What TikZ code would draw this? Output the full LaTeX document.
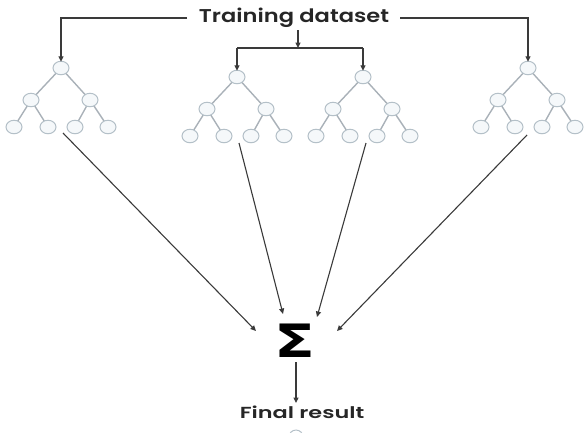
\documentclass[tikz,border=0pt]{standalone}
\usepackage{fontspec}
\setmainfont{Poppins}
\newfontfamily\semifont{Poppins SemiBold}
\newfontfamily\symfont{DejaVu Sans}
\usetikzlibrary{arrows.meta,calc,shapes.geometric}

\definecolor{linkgray}{HTML}{3A3A3A}
\definecolor{nodeedge}{HTML}{B4C0C8}
\definecolor{nodefill}{HTML}{F5F8FA}
\definecolor{branch}{HTML}{A9B1B8}

\tikzset{
  arr/.style={draw=linkgray, line width=1.1pt, -{Triangle[length=5.5pt,width=5pt]}},
  plain/.style={draw=linkgray, line width=1.1pt},
  tnode/.style={ellipse, draw=nodeedge, fill=nodefill, line width=1pt,
    minimum width=16pt, minimum height=13.5pt, inner sep=0pt},
  tedge/.style={draw=branch, line width=1.4pt},
  txt/.style={text=black!85, inner sep=0pt},
  pics/bintree/.style={code={
    \path[tedge] (0,0) -- (-30,32) -- (-47,59)
                 (-30,32) -- (-13,59)
                 (0,0) -- (29,32) -- (14,59)
                 (29,32) -- (47,59);
    \node[tnode] (-r)  at (0,0) {};
    \node[tnode] (-a)  at (-30,32) {};
    \node[tnode] (-b)  at (29,32) {};
    \node[tnode] (-aa) at (-47,59) {};
    \node[tnode] (-ab) at (-13,59) {};
    \node[tnode] (-ba) at (14,59) {};
    \node[tnode] (-bb) at (47,59) {};
  }}
}

\begin{document}
\begin{tikzpicture}[x=1pt, y=-1pt]
  \useasboundingbox (0,0) rectangle (586,432);

  % four decision trees
  \pic (t1) at (61,68) {bintree};
  \pic (t2) at (237,77) {bintree};
  \pic (t3) at (363,77) {bintree};
  \pic (t4) at (528,68) {bintree};

  % title and split of the training data
  \node[txt, font=\fontsize{18.5}{20}\selectfont\semifont] (title) at (294,18)
    {\scalebox{1.22}[1]{Training dataset}};
  \coordinate (tl) at (187,18);
  \coordinate (tr) at (400,18);
  \coordinate (mid) at (298,30);
  \coordinate (fork) at (298,48);
  \coordinate (forkl) at (237,48);
  \coordinate (forkr) at (363,48);
  \draw[arr] (tl) -| ([yshift=-1pt]t1-r.north);
  \draw[arr] (tr) -| ([yshift=-1pt]t4-r.north);
  \draw[arr] (mid) -- (fork);
  \draw[plain] (forkl) -- (forkr);
  \draw[arr] (forkl) -- ([yshift=-1pt]t2-r.north);
  \draw[arr] (forkr) -- ([yshift=-1pt]t3-r.north);

  % aggregation
  \node[inner sep=0pt, font=\symfont\bfseries\fontsize{46}{46}\selectfont] (sum) at (294.5,341)
    {\scalebox{1.3}[1]{Σ}};
  \coordinate (s1) at (63,133);   \coordinate (e1) at (256,331);
  \coordinate (s2) at (239,143);  \coordinate (e2) at (283,314);
  \coordinate (s3) at (366,143);  \coordinate (e3) at (317,317);
  \coordinate (s4) at (527,135);  \coordinate (e4) at (337,331);
  \draw[arr] (s1) -- (e1);
  \draw[arr] (s2) -- (e2);
  \draw[arr] (s3) -- (e3);
  \draw[arr] (s4) -- (e4);

  % result
  \node[txt, font=\fontsize{16}{17}\selectfont\semifont] (final) at (302,412)
    {\scalebox{1.4}[1]{Final result}};
  \coordinate (sumout) at (296,362);
  \coordinate (finin) at (296,403);
  \draw[arr] (sumout) -- (finin);
  \draw[draw=nodeedge, line width=1pt] (296,437) circle (7pt);
\end{tikzpicture}
\end{document}
